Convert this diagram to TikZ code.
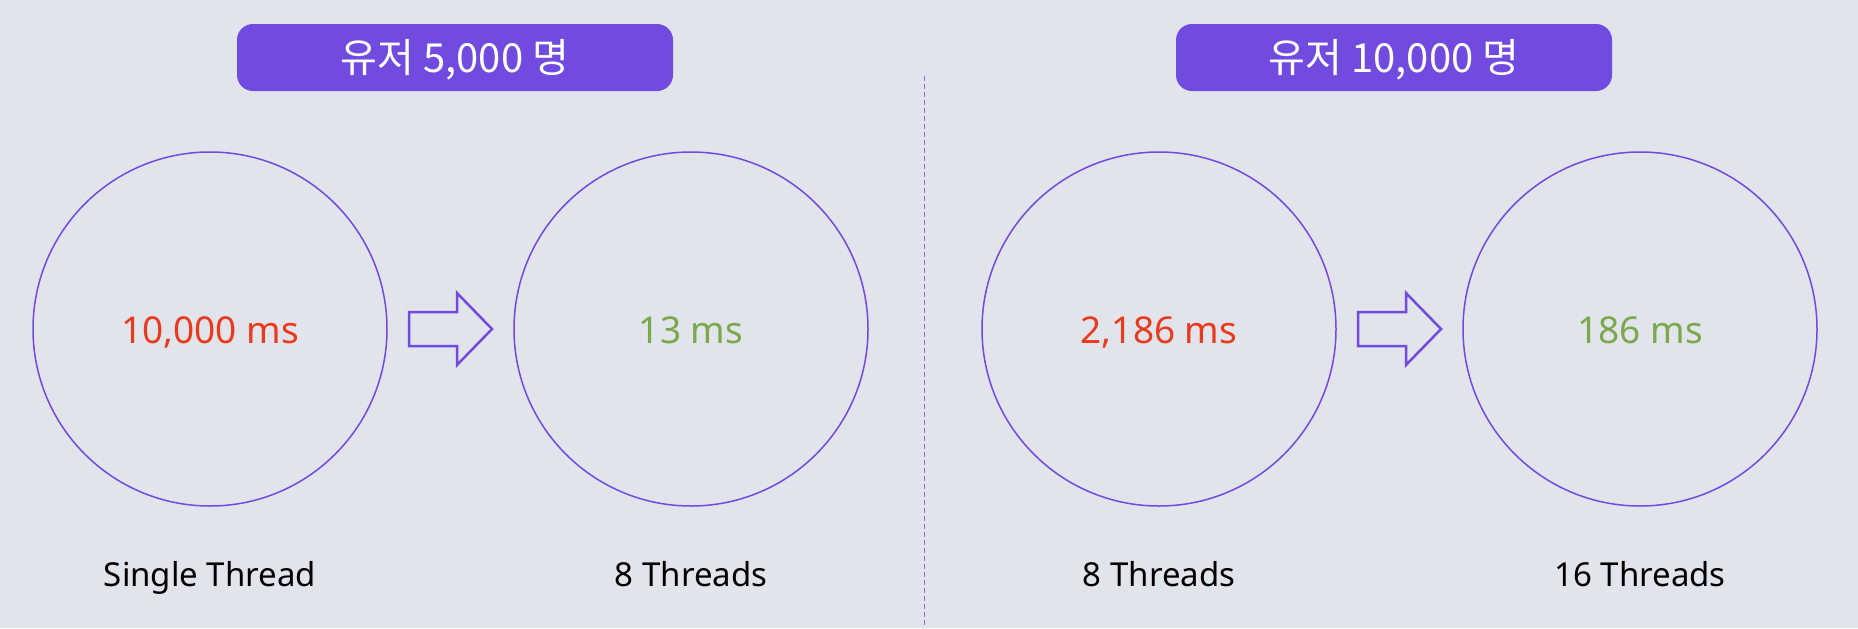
\documentclass[tikz,border=0pt]{standalone}
\usepackage{fontspec}
\setmainfont{Noto Sans}
\newfontfamily\krfont{Noto Sans CJK KR}
\usetikzlibrary{calc}
\definecolor{bgcol}{RGB}{225,228,234}
\definecolor{purp}{RGB}{113,74,224}
\definecolor{msred}{RGB}{233,58,30}
\definecolor{msgreen}{RGB}{122,168,76}
\newcommand{\fatarrow}[1]{\draw[purp, line width=1.25pt, line join=miter] #1 ++(-41.5,-17) -- ++(48,0) -- ++(0,-19) -- ++(35,36) -- ++(-35,36) -- ++(0,-19) -- ++(-48,0) -- cycle;}
\tikzset{
  ring/.style={circle, draw=purp, line width=0.75pt, minimum size=177pt, inner sep=0pt, outer sep=0pt,
    font=\fontsize{18.5}{22}\selectfont, text height=14pt, text depth=0pt},
  usersbox/.style={rounded corners=8pt, fill=purp, minimum width=218pt, minimum height=33.5pt, text=white,
    font=\krfont\fontsize{20}{24}\selectfont, text height=14.5pt, text depth=0pt},
  lbl/.style={anchor=base, inner sep=0pt, font=\fontsize{16.5}{20}\selectfont}
}
\begin{document}
\begin{tikzpicture}[x=0.5pt, y=-0.5pt]
  \fill[bgcol] (0,0) rectangle (1858,628);
  \useasboundingbox (0,0) rectangle (1858,628);

  % headers
  \node[usersbox] (h1) at (455,57.5) {유저 5,000 명};
  \node[usersbox] (h2) at (1394,57.5) {유저 10,000 명};

  % divider
  \draw[purp!85, line width=0.5pt, dash pattern=on 2.5pt off 1.5pt] (924,76) -- (924,628);

  % circles
  \node[ring, text=msred] (c1) at (210,329) {10,000 ms};
  \node[ring, text=msgreen] (c2) at (691,329) {13 ms};
  \node[ring, text=msred] (c3) at (1159,329) {2,186 ms};
  \node[ring, text=msgreen] (c4) at (1640,329) {186 ms};

  % arrows
  \fatarrow{($(c1.east)!0.5!(c2.west)$)}
  \fatarrow{($(c3.east)!0.5!(c4.west)$)}

  % labels
  \node[lbl] (l1) at (c1.center |- 0,586) {Single Thread};
  \node[lbl] (l2) at (c2.center |- 0,586) {8 Threads};
  \node[lbl] (l3) at (c3.center |- 0,586) {8 Threads};
  \node[lbl] (l4) at (c4.center |- 0,586) {16 Threads};
\end{tikzpicture}
\end{document}
